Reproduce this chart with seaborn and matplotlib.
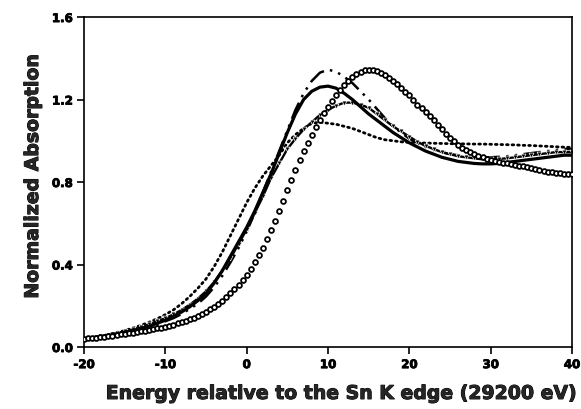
import numpy as np
import pandas as pd
import matplotlib
matplotlib.use("Agg")
import matplotlib.pyplot as plt
import matplotlib.patheffects as pe
import seaborn as sns

# ---------------- data ----------------
energy_1ev = np.arange(-20, 41, 1.0)
energy_half = np.arange(-20, 40.25, 0.5)

solid_abs = [0.040, 0.045, 0.050, 0.056, 0.063, 0.071, 0.080, 0.090, 0.100, 0.115,
             0.130, 0.148, 0.170, 0.195, 0.225, 0.260, 0.310, 0.370, 0.440, 0.510,
             0.580, 0.660, 0.750, 0.840, 0.940, 1.040, 1.130, 1.200, 1.240, 1.260,
             1.265, 1.255, 1.230, 1.200, 1.165, 1.130, 1.100, 1.070, 1.040, 1.015,
             0.990, 0.970, 0.950, 0.935, 0.920, 0.910, 0.900, 0.895, 0.890, 0.888,
             0.888, 0.890, 0.895, 0.900, 0.905, 0.910, 0.915, 0.920, 0.925, 0.930,
             0.930]

dashdot_abs = [0.040, 0.044, 0.049, 0.054, 0.060, 0.067, 0.075, 0.084, 0.094, 0.108,
               0.125, 0.140, 0.160, 0.185, 0.210, 0.245, 0.290, 0.345, 0.410, 0.480,
               0.560, 0.650, 0.750, 0.850, 0.950, 1.050, 1.150, 1.230, 1.290, 1.330,
               1.345, 1.335, 1.310, 1.280, 1.240, 1.200, 1.155, 1.110, 1.070, 1.040,
               1.010, 0.990, 0.970, 0.955, 0.945, 0.935, 0.930, 0.925, 0.920, 0.920,
               0.920, 0.922, 0.925, 0.930, 0.935, 0.940, 0.945, 0.950, 0.955, 0.960,
               0.960]

triangle_abs = [0.040, 0.046, 0.052, 0.059, 0.067, 0.076, 0.086, 0.097, 0.110, 0.125,
                0.140, 0.158, 0.180, 0.205, 0.235, 0.270, 0.315, 0.370, 0.430, 0.500,
                0.570, 0.650, 0.730, 0.820, 0.890, 0.960, 1.010, 1.055, 1.090, 1.125,
                1.150, 1.170, 1.185, 1.185, 1.175, 1.160, 1.130, 1.100, 1.070, 1.045,
                1.020, 0.995, 0.975, 0.960, 0.945, 0.935, 0.925, 0.920, 0.915, 0.910,
                0.910, 0.912, 0.915, 0.920, 0.925, 0.930, 0.935, 0.940, 0.945, 0.945,
                0.945]

dotted_abs = [0.040, 0.046, 0.053, 0.061, 0.070, 0.080, 0.092, 0.105, 0.120, 0.137,
              0.157, 0.180, 0.210, 0.245, 0.285, 0.330, 0.390, 0.460, 0.540, 0.620,
              0.700, 0.770, 0.830, 0.880, 0.930, 0.990, 1.030, 1.060, 1.085, 1.090,
              1.085, 1.080, 1.070, 1.060, 1.045, 1.030, 1.015, 1.005, 1.000, 0.995,
              0.992, 0.990, 0.989, 0.988, 0.987, 0.986, 0.985, 0.985, 0.984, 0.984,
              0.983, 0.982, 0.981, 0.980, 0.978, 0.977, 0.975, 0.973, 0.971, 0.969,
              0.968]

circle_abs = [0.040, 0.042, 0.044, 0.046, 0.048, 0.050, 0.053, 0.055, 0.058, 0.061,
              0.064, 0.067, 0.070, 0.073, 0.076, 0.079, 0.082, 0.086, 0.090, 0.094,
              0.098, 0.103, 0.108, 0.114, 0.120, 0.127, 0.134, 0.142, 0.150, 0.160,
              0.170, 0.182, 0.195, 0.210, 0.225, 0.242, 0.260, 0.280, 0.300, 0.325,
              0.350, 0.380, 0.410, 0.445, 0.480, 0.522, 0.565, 0.612, 0.660, 0.710,
              0.760, 0.810, 0.860, 0.905, 0.950, 0.990, 1.030, 1.065, 1.100, 1.133,
              1.165, 1.193, 1.220, 1.245, 1.270, 1.290, 1.310, 1.323, 1.335, 1.341,
              1.345, 1.344, 1.340, 1.331, 1.320, 1.306, 1.290, 1.273, 1.255, 1.238,
              1.220, 1.198, 1.175, 1.157, 1.140, 1.120, 1.100, 1.077, 1.055, 1.035,
              1.015, 0.997, 0.980, 0.967, 0.955, 0.945, 0.935, 0.927, 0.920, 0.913,
              0.907, 0.902, 0.897, 0.893, 0.890, 0.887, 0.884, 0.880, 0.876, 0.872,
              0.868, 0.863, 0.858, 0.854, 0.850, 0.847, 0.845, 0.842, 0.840, 0.838,
              0.837]

x_ticks = [-20, -10, 0, 10, 20, 30, 40]
y_ticks = [0.0, 0.4, 0.8, 1.2, 1.6]
x_label = "Energy relative to the Sn K edge (29200 eV)"
y_label = "Normalized Absorption"

# ---------------- style ----------------
sns.set_style("ticks")
plt.rcParams["font.family"] = ["DejaVu Sans"]
plt.rcParams["font.weight"] = "bold"

fig = plt.figure(figsize=(5.81, 4.10), dpi=100)
ax = fig.add_axes([0.1446, 0.1512, 0.8399, 0.8048])

sns.lineplot(x=energy_1ev, y=dotted_abs, ax=ax, color="black", linewidth=2.0,
             linestyle=(0, (0.6, 1.4)), dash_capstyle="round")
sns.lineplot(x=energy_1ev, y=dashdot_abs, ax=ax, color="black", linewidth=1.8,
             linestyle=(0, (7, 2.5, 1, 2.5, 1, 2.5)))
sns.lineplot(x=energy_1ev, y=triangle_abs, ax=ax, color="black", linewidth=1.7,
             marker="v", markersize=3.5, markeredgewidth=0.5)
sns.lineplot(x=energy_1ev, y=solid_abs, ax=ax, color="black", linewidth=2.3)
sns.scatterplot(x=energy_half, y=circle_abs, ax=ax, marker="o", s=12,
                facecolor="white", edgecolor="black", linewidth=1.3, zorder=3)

ax.set_xlim(-20, 40)
ax.set_ylim(0.0, 1.6)
ax.set_xticks(x_ticks)
ax.set_yticks(y_ticks)
heavy = [pe.withStroke(linewidth=0.6, foreground="black")]
ax.set_xticklabels([str(t) for t in x_ticks], fontsize=8.5, fontweight="bold")
ax.set_yticklabels([f"{t:.1f}" for t in y_ticks], fontsize=8.5, fontweight="bold")
for lab in ax.get_xticklabels() + ax.get_yticklabels():
    lab.set_path_effects(heavy)
ax.tick_params(direction="out", length=5, width=1.2, colors="black", pad=3)
for s in ax.spines.values():
    s.set_linewidth(1.2)
    s.set_color("black")

ax.set_xlabel(x_label, fontsize=13.6, fontweight="bold",
              path_effects=[pe.withStroke(linewidth=0.7, foreground="black")])
ax.set_ylabel(y_label, fontsize=13.6, fontweight="bold",
              path_effects=[pe.withStroke(linewidth=0.7, foreground="black")])
ax.xaxis.set_label_coords(0.527, -0.112)
ax.yaxis.set_label_coords(-0.086, 0.517)

fig.savefig("out.png", dpi=100)
